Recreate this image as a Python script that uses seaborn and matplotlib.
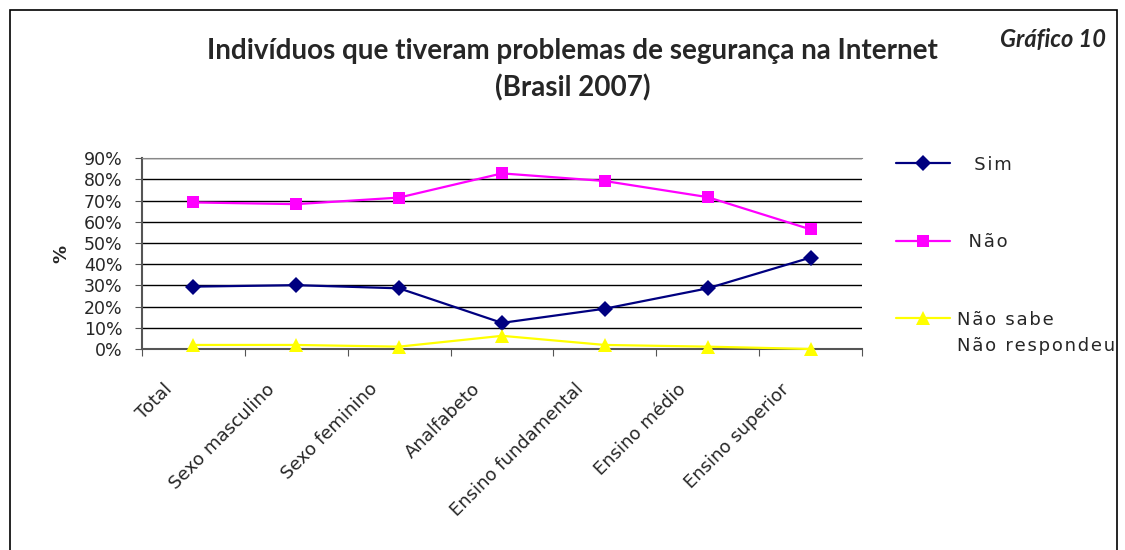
import matplotlib.pyplot as plt
import matplotlib.patches as patches
from matplotlib.transforms import ScaledTranslation
import pandas as pd
import seaborn as sns

# Data (%)
categorias = ['Total', 'Sexo masculino', 'Sexo feminino', 'Analfabeto',
              'Ensino fundamental', 'Ensino médio', 'Ensino superior']
sim = [29.4, 30.1, 28.6, 12.3, 19.0, 28.6, 43.1]
nao = [69.1, 68.3, 71.4, 82.8, 79.2, 71.6, 56.4]
nao_sabe = [1.9, 1.9, 1.1, 6.2, 1.9, 1.1, 0.0]
series = ['Sim', 'Não', 'Não sabe']
y_ticks = [0, 10, 20, 30, 40, 50, 60, 70, 80, 90]

df = pd.DataFrame({
    'categoria': categorias * 3,
    'pos': list(range(len(categorias))) * 3,
    'serie': [series[0]] * 7 + [series[1]] * 7 + [series[2]] * 7,
    'valor': sim + nao + nao_sabe,
})

sns.set_style('white')
plt.rcParams['font.family'] = ['DejaVu Sans']

fig = plt.figure(figsize=(11.25, 5.5), dpi=100)
ax = fig.add_axes([0.1262, 0.3655, 0.64, 0.347])

# Frame around the whole figure
fig.patches.append(patches.Rectangle((10 / 1125, -0.1), 1107 / 1125, 1.1 - 10 / 550,
                                     transform=fig.transFigure, fill=False,
                                     edgecolor='black', linewidth=1.2))

palette = {series[0]: '#000080', series[1]: '#ff00ff', series[2]: '#ffff00'}
markers = {series[0]: 'D', series[1]: 's', series[2]: '^'}
msizes = {series[0]: 8, series[1]: 8, series[2]: 10}
sns.lineplot(data=df, x='pos', y='valor', hue='serie', style='serie', palette=palette,
             markers=markers, dashes=False, markersize=8, linewidth=1.6,
             markeredgewidth=0, sort=False, ax=ax, legend=False)
for line, s in zip(ax.get_lines(), series):
    line.set_markersize(msizes[s])
    line.set_clip_on(False)
    line.set_zorder(3)

ax.set_xlim(-0.5, 6.5)
ax.set_ylim(0, 90)
ax.set_yticks(y_ticks)
ax.set_yticklabels([f'{v}%' for v in y_ticks], fontsize=12.5)
ax.yaxis.grid(True, color='black', linewidth=1.0)
ax.set_axisbelow(True)

ax.set_xticks([i + 0.5 for i in range(-1, 7)], minor=False)
ax.set_xticklabels([])
ax.set_xticks(range(7), minor=True)
ax.set_xticklabels(categorias, minor=True, rotation=45, ha='right', va='center',
                   rotation_mode='anchor', fontsize=13)
ax.tick_params(axis='x', which='minor', length=0, pad=27)
ax.tick_params(axis='x', which='major', length=5, direction='out', color='#555555')
ax.tick_params(axis='y', length=5, direction='out', color='#555555', pad=9)
ax.xaxis.set_ticks_position('bottom')
ax.yaxis.set_ticks_position('left')
# shift category labels a little to the left, as in the original
offset = ScaledTranslation(-0.24, 0, fig.dpi_scale_trans)
for lbl in ax.get_xticklabels(minor=True):
    lbl.set_transform(lbl.get_transform() + offset)

for side in ['left', 'bottom']:
    ax.spines[side].set_color('#555555')
    ax.spines[side].set_linewidth(1.5)
ax.spines['top'].set_color('#888888')
ax.spines['right'].set_visible(False)

ax.set_xlabel('')
ax.set_ylabel('%', fontsize=13, fontweight='bold', labelpad=10)

fig.text(0.509, 0.907, 'Indivíduos que tiveram problemas de segurança na Internet',
         ha='center', va='center', fontsize=20, fontweight='bold', family='Lato')
fig.text(0.509, 0.840, '(Brasil 2007)', ha='center', va='center',
         fontsize=20, fontweight='bold', family='Lato')
fig.text(0.983, 0.928, 'Gráfico 10', ha='right', va='center', fontsize=17,
         fontweight='bold', style='italic', family='Lato')

# Legend
hs = '\u200a'
def spaced(t):
    return hs.join(t)

handles = [plt.Line2D([], [], color=palette[s], marker=markers[s], markersize=msizes[s],
                      markeredgewidth=0, linewidth=1.6) for s in series]
leg = fig.legend(handles, ['   ' + spaced('Sim'), '  ' + spaced('Não'), spaced('Não sabe')],
                 loc='upper left', bbox_to_anchor=(0.7964, 0.717), frameon=False,
                 fontsize=13, handlelength=3.0, handletextpad=0.4, labelspacing=3.3,
                 borderpad=0, borderaxespad=0)
fig.text(957 / 1125, 1 - 346 / 550, spaced('Não respondeu'), ha='left', va='center',
         fontsize=13)

fig.savefig('out.png', dpi=100)
